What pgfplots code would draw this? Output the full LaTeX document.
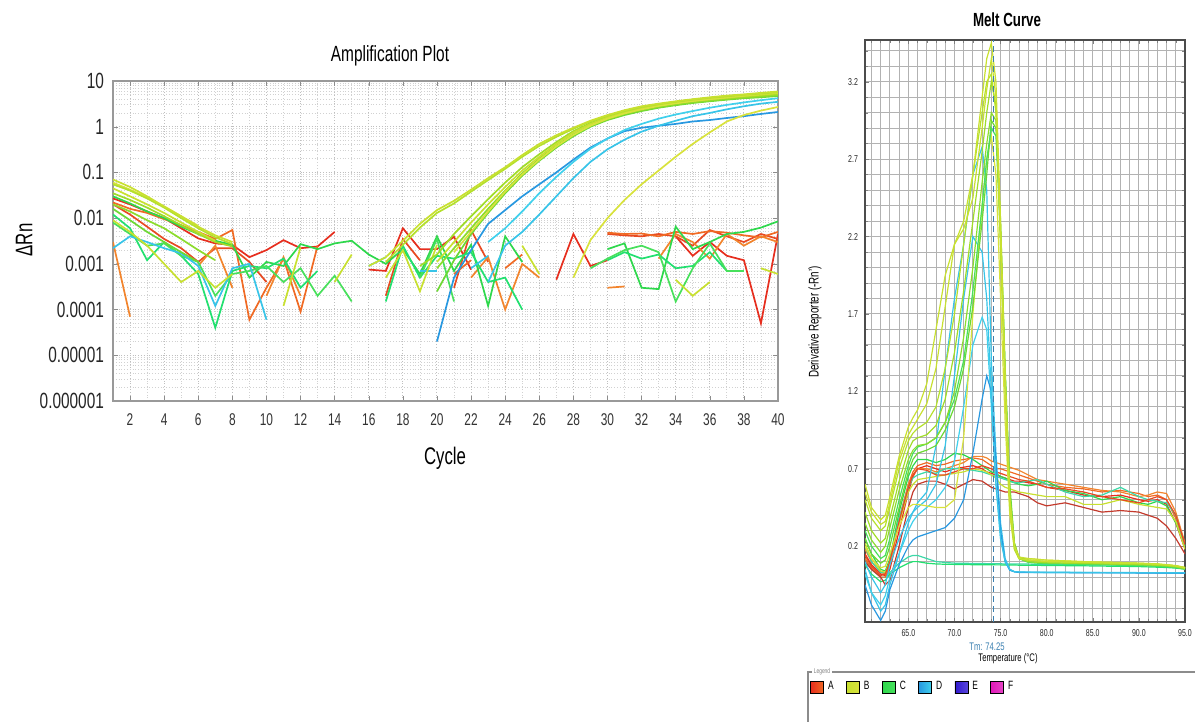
\documentclass[border=0pt]{standalone}
\usepackage{fontspec}
\setmainfont{Liberation Sans}[FakeStretch=0.7]
\usepackage{pgfplots}
\usepackage{pgfplotstable}
\pgfplotsset{compat=1.18}

\definecolor{Ared}{HTML}{E62E1E}
\definecolor{Ared2}{HTML}{E84A22}
\definecolor{Aora}{HTML}{F06A24}
\definecolor{Aora2}{HTML}{F2842C}
\definecolor{Adark}{HTML}{C43A2C}
\definecolor{Byg}{HTML}{C8E030}
\definecolor{Byg2}{HTML}{B4E02C}
\definecolor{Blime}{HTML}{A0DC28}
\definecolor{Blime2}{HTML}{8CDC2C}
\definecolor{Bgr}{HTML}{6CD834}
\definecolor{Byel}{HTML}{D8E23C}
\definecolor{Cgr}{HTML}{2ED84C}
\definecolor{Cgr2}{HTML}{22E070}
\definecolor{Cgr3}{HTML}{48E05C}
\definecolor{Cteal}{HTML}{3CD8A8}
\definecolor{Dcy}{HTML}{38C4E8}
\definecolor{Dblue}{HTML}{2898E0}
\definecolor{Dcy2}{HTML}{40D0EC}
\definecolor{Eblue}{HTML}{3018D0}
\definecolor{Fmag}{HTML}{E018B8}
\definecolor{TmBlue}{HTML}{3A7FB0}

% amplification: amplified wells
\pgfplotstableread{
c  s1     s2     b1     b2     b3     b4      b5     d1      d2     d3     late
1  0.070  0.055  0.035  0.045  0.020  0.016   0.060  nan     nan    nan    nan
2  0.048  0.040  0.025  0.030  0.014  0.009   0.042  nan     nan    nan    nan
3  0.030  0.027  0.017  0.020  0.009  0.005   0.028  nan     nan    nan    nan
4  0.018  0.017  0.011  0.013  0.006  0.003   0.018  nan     nan    nan    nan
5  0.011  0.010  0.007  0.008  0.0035 0.0018  0.011  nan     nan    nan    nan
6  0.0065 0.006  0.0045 0.005  0.002  0.0011  0.0068 nan     nan    nan    nan
7  0.0042 0.0038 0.003  0.0032 0.0012 nan     nan    nan     nan    nan    nan
8  0.0030 0.0027 0.0024 nan    nan    nan     nan    nan     nan    nan    nan
9  nan    nan    nan    nan    nan    nan     nan    nan     nan    nan    nan
15 nan    nan    nan    nan    nan    nan     nan    nan     nan    nan    nan
16 0.0009 nan    nan    nan    nan    nan     nan    nan     nan    nan    nan
17 0.0014 0.0011 nan    nan    nan    nan     nan    nan     nan    nan    nan
18 0.0032 0.0026 nan    nan    nan    nan     nan    nan     nan    nan    nan
19 0.0075 0.0062 0.0009 nan    nan    nan     nan    nan     nan    nan    nan
20 0.015  0.013  0.0016 0.0011 0.0008 0.00025 nan    0.00002 nan    nan    nan
21 0.024  0.021  0.0045 0.003  0.0022 0.0012  0.0018 0.0005  nan    nan    nan
22 0.042  0.038  0.011  0.008  0.006  0.0045  0.005  0.002   nan    nan    nan
23 0.075  0.068  0.026  0.020  0.016  0.013   0.014  0.0075  0.0004 0.003  nan
24 0.13   0.12   0.06   0.048  0.04   0.035   0.038  0.015   0.0025 0.006  nan
25 0.24   0.22   0.13   0.11   0.095  0.085   0.09   0.03    0.005  0.014  nan
26 0.42   0.38   0.25   0.22   0.2    0.18    0.19   0.055   0.012  0.035  nan
27 0.65   0.6    0.46   0.42   0.38   0.35    0.37   0.1     0.03   0.08   nan
28 0.95   0.9    0.8    0.75   0.68   0.62    0.66   0.19    0.075  0.17   0.0005
29 1.35   1.3    1.2    1.15   1.05   1.0     1.05   0.35    0.17   0.33   0.0033
30 1.8    1.75   1.65   1.6    1.45   1.4     1.5    0.55    0.32   0.55   0.01
31 2.3    2.2    2.1    2.05   1.9    1.8     1.95   0.8     0.52   0.85   0.025
32 2.8    2.7    2.5    2.5    2.3    2.2     2.4    0.95    0.78   1.15   0.055
33 3.2    3.1    2.9    2.9    2.7    2.6     2.85   1.05    1.05   1.5    0.11
34 3.6    3.5    3.3    3.3    3.05   2.95    3.25   1.15    1.35   1.85   0.22
35 4.0    3.9    3.6    3.7    3.4    3.3     3.65   1.3     1.7    2.2    0.42
36 4.4    4.3    3.9    4.0    3.7    3.6     4.0    1.4     2.0    2.6    0.75
37 4.8    4.6    4.2    4.3    4.0    3.9     4.4    1.55    2.4    3.0    1.3
38 5.1    5.0    4.5    4.7    4.3    4.2     4.8    1.7     2.8    3.4    1.8
39 5.5    5.3    4.8    5.0    4.6    4.4     5.2    1.9     3.2    3.8    2.25
40 5.9    5.7    5.1    5.4    4.9    4.7     5.6    2.1     3.5    4.2    2.7
}\amp

% amplification: background noise of the other wells
\pgfplotstableread{
c  r1      r2     o1      o2      g1      g2      g3      cy      y1
1  0.027   0.020  0.022   0.003   0.030   0.012   0.008   0.0022  0.009
2  0.020   0.012  0.016   0.00007 0.021   0.006   0.0045  0.004   0.005
3  0.014   0.0065 0.013   nan     0.014   0.0012  0.0025  0.003   0.0025
4  0.010   0.0035 0.0095  nan     0.010   0.003   0.0028  0.0022  0.001
5  0.006   0.0022 0.007   nan     0.0065  0.0015  0.0015  0.0017  0.0004
6  0.0036  0.0011 0.005   0.0009  0.0045  0.0006  0.0011  0.0009  0.0007
7  0.0028  0.0022 0.0035  0.0025  0.0032  0.00004 0.0002  0.00012 0.0003
8  0.0026  0.0022 0.0055  0.0003  0.0026  0.0007  0.0006  0.0008  0.0006
9  0.0014  0.0011 0.00006 nan     0.0005  0.0009  0.0007  0.001   nan
10 0.002   0.0004 0.0003  0.0002  0.0011  0.0008  0.0009  0.00006 nan
11 0.0033  nan    0.0013  0.0014  0.0009  0.0013  0.0004  nan     0.00012
12 0.0022  nan    0.00009 0.0002  0.0027  0.0003  0.0008  nan     0.0023
13 0.0024  nan    0.0025  nan     0.0021  0.0007  0.0002  nan     nan
14 0.005   nan    nan     nan     0.0028  nan     0.00055 nan     0.0004
15 nan     nan    nan     nan     0.0032  nan     0.00015 nan     0.0016
16 0.00075 nan    nan     nan     0.0016  nan     nan     0.0009  nan
17 0.0007  0.0002 nan     nan     0.001   0.00015 nan     0.0014  0.0005
18 0.006   0.0035 nan     nan     0.0021  0.0025  nan     nan     0.002
19 0.0021  0.0012 nan     nan     0.0006  0.0005  0.0005  0.0007  0.00025
20 0.0021  nan    nan     nan     0.004   0.0015  0.0035  0.0007  0.0026
21 0.0039  0.0003 0.0006  nan     0.0007  0.0013  0.00015 nan     nan
22 0.00075 0.0055 0.0012  0.0005  0.0026  0.0018  nan     0.0008  nan
23 nan     0.0011 nan     0.0014  0.00012 0.0004  nan     0.0015  nan
24 nan     nan    0.0008  0.0001  0.004   0.0005  nan     nan     nan
25 nan     nan    0.0016  0.001   0.0011  0.0001  nan     nan     0.0025
26 nan     nan    nan     0.0005  nan     nan     nan     nan     0.0006
27 0.00045 nan    nan     nan     nan     nan     nan     nan     nan
28 0.0045  nan    nan     nan     nan     nan     nan     nan     nan
29 0.0009  nan    nan     nan     nan     nan     0.0008  nan     nan
30 0.0012  0.0045 0.0048  0.0003  0.0021  0.0012  0.0013  nan     nan
31 nan     0.0042 0.0045  0.00032 0.0028  0.0018  0.002   nan     nan
32 nan     0.004  0.0046  nan     0.0003  0.0013  0.0025  nan     nan
33 nan     0.0045 0.004   0.0013  0.00028 0.0016  0.0018  nan     nan
34 0.004   0.004  0.005   0.0045  0.0065  0.0008  0.00015 nan     0.00045
35 0.0015  0.0025 0.0045  0.003   0.0021  0.0009  0.0008  nan     0.0002
36 0.003   0.0055 0.0052  0.0013  0.003   0.0018  0.0028  nan     0.0004
37 0.0015  0.004  0.0048  0.0045  0.0045  0.0007  0.0007  nan     nan
38 0.0012  0.003  0.0042  0.0025  0.005   0.0007  0.0007  nan     nan
39 0.00005 0.0045 0.0038  0.004   0.0062  nan     nan     nan     0.0008
40 0.0045  0.0035 0.005   0.003   0.0085  nan     nan     nan     0.0006
}\noise

% melt: wells with a product peak
\pgfplotstableread{
T    p1    p2    p3    p4    p5    p6    p7    p8
60.3 0.60  0.50  0.42  0.35  0.30  0.25  0.20  0.55
61   0.45  0.38  0.30  0.24  0.20  0.15  0.12  0.42
62   0.37  0.30  0.22  0.16  0.12  0.09  0.06  0.34
62.5 0.40  0.33  0.25  0.20  0.14  0.11  0.07  0.36
63   0.52  0.45  0.38  0.32  0.25  0.20  0.15  0.48
64   0.78  0.70  0.62  0.56  0.50  0.45  0.33  0.75
65   0.97  0.88  0.82  0.76  0.72  0.68  0.45  0.92
65.5 1.03  0.93  0.88  0.82  0.80  0.76  0.47  0.97
66   1.08  0.96  0.90  0.85  0.84  0.80  0.47  1.02
67   1.25  1.00  0.92  0.86  0.86  0.82  0.46  1.12
68   1.60  1.10  0.98  0.90  0.90  0.85  0.45  1.35
69   1.95  1.35  1.15  1.00  1.00  0.95  0.45  1.75
70   2.15  1.70  1.45  1.20  1.15  1.10  0.50  2.15
71   2.30  2.15  1.85  1.55  1.40  1.35  0.90  2.25
72   2.60  2.60  2.30  2.00  1.85  1.75  1.70  2.45
73   3.10  3.00  2.75  2.55  2.40  2.30  2.40  2.90
73.5 3.35  3.20  3.00  2.80  2.70  2.60  2.70  3.15
74   3.45  3.25  3.20  3.00  2.90  2.95  2.85  3.35
74.5 3.20  3.00  3.05  2.95  2.85  2.90  2.60  3.10
75   2.30  2.10  2.20  2.25  2.20  2.30  1.80  2.20
75.5 1.30  1.20  1.25  1.30  1.30  1.35  1.00  1.25
76   0.50  0.45  0.50  0.55  0.55  0.60  0.40  0.48
76.5 0.20  0.18  0.20  0.22  0.20  0.22  0.18  0.20
77   0.13  0.12  0.12  0.13  0.12  0.12  0.12  0.12
78   0.12  0.11  0.10  0.11  0.095 0.10  0.12  0.11
79   0.115 0.105 0.095 0.105 0.09  0.095 0.115 0.105
80   0.11  0.10  0.092 0.10  0.087 0.092 0.11  0.10
82   0.105 0.098 0.09  0.098 0.085 0.09  0.105 0.098
84   0.10  0.095 0.088 0.095 0.083 0.088 0.10  0.095
86   0.097 0.092 0.085 0.092 0.08  0.085 0.097 0.092
88   0.094 0.09  0.082 0.09  0.078 0.082 0.094 0.09
90   0.09  0.087 0.08  0.087 0.075 0.08  0.09  0.087
91   0.088 0.085 0.078 0.085 0.073 0.078 0.088 0.085
92   0.085 0.082 0.076 0.082 0.07  0.076 0.085 0.082
93   0.08  0.078 0.072 0.078 0.067 0.072 0.08  0.078
94   0.074 0.072 0.066 0.072 0.062 0.066 0.074 0.072
95   0.062 0.06  0.055 0.06  0.05  0.055 0.062 0.06
}\meltpk

% melt: D wells and flat wells
\pgfplotstableread{
T    q1    q2    q3    q4    f1    f2
60.3 0.05  0.02  -0.05 0.10  0.12  0.08
61   -0.10 -0.10 -0.18 0.00  0.05  0.02
62   -0.22 -0.18 -0.28 -0.10 0.00  -0.03
62.5 -0.18 -0.12 -0.22 -0.05 0.00  -0.02
63   -0.05 0.00  -0.08 0.08  0.03  0.02
64   0.15  0.15  0.08  0.25  0.09  0.06
65   0.35  0.30  0.20  0.38  0.13  0.09
65.5 0.42  0.36  0.24  0.42  0.14  0.10
66   0.48  0.40  0.26  0.45  0.14  0.10
67   0.55  0.45  0.28  0.50  0.12  0.09
68   0.85  0.50  0.30  0.60  0.10  0.085
69   1.35  0.58  0.32  0.85  0.095 0.083
70   1.80  0.75  0.38  1.30  0.09  0.082
71   2.15  1.10  0.50  1.80  0.09  0.082
72   2.60  1.50  0.80  2.20  0.088 0.08
73   2.78  1.68  1.15  2.10  0.088 0.08
73.5 2.50  1.60  1.30  1.80  0.087 0.08
74   1.40  1.10  1.20  1.20  0.087 0.08
74.5 0.80  0.60  0.75  0.60  0.086 0.079
75   0.35  0.25  0.30  0.25  0.086 0.079
75.5 0.12  0.10  0.10  0.10  0.085 0.078
76   0.05  0.045 0.045 0.05  0.085 0.078
76.5 0.035 0.035 0.035 0.035 0.085 0.078
77   0.032 0.032 0.03  0.033 0.085 0.077
78   0.031 0.031 0.03  0.032 0.084 0.077
79   0.031 0.03  0.03  0.032 0.083 0.076
80   0.03  0.03  0.029 0.031 0.082 0.075
82   0.03  0.03  0.029 0.031 0.08  0.074
84   0.03  0.029 0.028 0.03  0.079 0.073
86   0.029 0.029 0.028 0.03  0.078 0.071
88   0.029 0.028 0.028 0.03  0.077 0.07
90   0.028 0.028 0.027 0.029 0.075 0.068
91   0.028 0.028 0.027 0.029 0.073 0.066
92   0.028 0.027 0.027 0.029 0.07  0.064
93   0.027 0.027 0.026 0.028 0.068 0.062
94   0.027 0.026 0.026 0.028 0.064 0.058
95   0.026 0.026 0.025 0.027 0.058 0.052
}\meltlow

% melt: wells without product
\pgfplotstableread{
T    n1    n2    n3    n4    n5    n6    n7    n8
60.3 0.15  0.12  0.10  0.18  0.25  0.20  0.22  0.14
61   0.08  0.06  0.05  0.10  0.15  0.10  0.12  0.07
62   0.02  0.00  0.00  0.03  0.05  0.03  0.04  0.01
62.5 0.01  0.00  -0.05 0.02  0.04  0.03  0.03  0.02
63   0.05  0.08  -0.02 0.10  0.12  0.10  0.10  0.10
64   0.30  0.35  0.20  0.38  0.42  0.38  0.35  0.36
65   0.55  0.60  0.45  0.60  0.65  0.58  0.55  0.58
65.5 0.65  0.68  0.55  0.66  0.72  0.64  0.60  0.66
66   0.70  0.72  0.60  0.70  0.76  0.66  0.63  0.70
67   0.72  0.74  0.62  0.70  0.76  0.68  0.64  0.69
68   0.70  0.72  0.62  0.68  0.74  0.67  0.65  0.66
69   0.68  0.73  0.60  0.70  0.76  0.70  0.66  0.66
70   0.70  0.75  0.57  0.72  0.80  0.70  0.67  0.68
71   0.71  0.76  0.60  0.74  0.79  0.70  0.68  0.70
72   0.72  0.77  0.63  0.78  0.76  0.69  0.70  0.70
73   0.70  0.76  0.62  0.78  0.72  0.68  0.69  0.72
73.5 0.68  0.74  0.60  0.77  0.70  0.67  0.68  0.71
74   0.67  0.72  0.58  0.75  0.68  0.66  0.66  0.70
74.5 0.66  0.70  0.57  0.74  0.67  0.65  0.64  0.68
75   0.65  0.70  0.56  0.73  0.65  0.64  0.60  0.67
75.5 0.64  0.69  0.55  0.72  0.64  0.63  0.58  0.66
76   0.63  0.68  0.55  0.71  0.62  0.62  0.57  0.65
76.5 0.62  0.67  0.55  0.70  0.61  0.61  0.56  0.64
77   0.62  0.66  0.54  0.69  0.60  0.61  0.55  0.63
78   0.61  0.64  0.52  0.66  0.59  0.62  0.54  0.62
79   0.60  0.62  0.48  0.63  0.60  0.63  0.53  0.60
80   0.58  0.60  0.46  0.62  0.62  0.60  0.52  0.58
82   0.56  0.58  0.48  0.60  0.56  0.55  0.52  0.57
84   0.53  0.57  0.45  0.58  0.54  0.52  0.47  0.55
86   0.52  0.55  0.42  0.56  0.50  0.53  0.47  0.52
88   0.53  0.56  0.43  0.55  0.52  0.58  0.50  0.50
90   0.50  0.54  0.42  0.52  0.48  0.52  0.47  0.48
91   0.49  0.52  0.40  0.53  0.47  0.50  0.46  0.50
92   0.50  0.53  0.38  0.55  0.49  0.49  0.45  0.52
93   0.47  0.50  0.33  0.54  0.46  0.48  0.44  0.50
94   0.35  0.38  0.25  0.42  0.35  0.40  0.36  0.40
95   0.18  0.20  0.15  0.22  0.20  0.20  0.18  0.21
}\meltnon

\pgfplotsset{
  ampl/.style={line width=0.85pt, forget plot},
  mlt/.style={line width=0.6pt, forget plot},
}

\begin{document}
\begin{tikzpicture}
\path[use as bounding box] (0pt,0pt) rectangle (597.5pt,361pt);

% ---------- amplification plot ----------
\begin{axis}[
  at={(56.5pt,160.5pt)}, anchor=south west,
  scale only axis, width=332.5pt, height=160pt,
  ymode=log, xmin=1, xmax=40, ymin=1e-6, ymax=10,
  unbounded coords=jump,
  xtick={2,4,...,40}, minor x tick num=1,
  ytick={1e-6,1e-5,1e-4,1e-3,1e-2,1e-1,1,10},
  yticklabels={0.000001,0.00001,0.0001,0.001,0.01,0.1,1,10},
  grid=both,
  major grid style={black!25, densely dotted, line width=0.5pt},
  minor grid style={black!18, densely dotted, line width=0.4pt},
  axis line style={draw=black!40, line width=0.8pt},
  major tick length=2.5pt, minor tick length=0pt,
  tick style={draw=black!45},
  /pgf/number format/assume math mode=true,
  xticklabel style={font=\fontsize{8.5}{10}\selectfont, text=black!80, yshift=-3pt},
  yticklabel style={font=\fontsize{11}{12}\selectfont, text=black!85, xshift=-1pt},
]
\addplot[ampl, Ared]  table[x=c,y=r1]{\noise};
\addplot[ampl, Ared2] table[x=c,y=r2]{\noise};
\addplot[ampl, Aora]  table[x=c,y=o1]{\noise};
\addplot[ampl, Aora2] table[x=c,y=o2]{\noise};
\addplot[ampl, Cgr]   table[x=c,y=g1]{\noise};
\addplot[ampl, Cgr2]  table[x=c,y=g2]{\noise};
\addplot[ampl, Cgr3]  table[x=c,y=g3]{\noise};
\addplot[ampl, Dcy]   table[x=c,y=cy]{\noise};
\addplot[ampl, Byg]   table[x=c,y=y1]{\noise};

\addplot[ampl, Dblue] table[x=c,y=d1]{\amp};
\addplot[ampl, Dcy]   table[x=c,y=d2]{\amp};
\addplot[ampl, Dcy2]  table[x=c,y=d3]{\amp};
\addplot[ampl, Byel]  table[x=c,y=late]{\amp};
\addplot[ampl, Bgr]   table[x=c,y=b4]{\amp};
\addplot[ampl, Blime2] table[x=c,y=b3]{\amp};
\addplot[ampl, Blime] table[x=c,y=b1]{\amp};
\addplot[ampl, Byg]   table[x=c,y=b2]{\amp};
\addplot[ampl, Byel]  table[x=c,y=b5]{\amp};
\addplot[ampl, Byg2]  table[x=c,y=s2]{\amp};
\addplot[ampl, Byg]   table[x=c,y=s1]{\amp};
\end{axis}

% ---------- melt curve ----------
\begin{axis}[
  at={(432.5pt,50pt)}, anchor=south west,
  scale only axis, width=160pt, height=291pt,
  xmin=60.3, xmax=95, ymin=-0.29, ymax=3.47,
  xtick={65,70,75,80,85,90,95},
  ytick={0.2,0.7,1.2,1.7,2.2,2.7,3.2},
  minor xtick={61,...,94},
  minor ytick={-0.2,-0.1,...,3.4},
  xmajorgrids=false, ymajorgrids=false, xminorgrids=true, yminorgrids=true,
  minor grid style={black!30, line width=0.5pt},
  axis line style={draw=black!70, line width=0.8pt},
  major tick length=2pt, minor tick length=1.5pt,
  tick style={draw=black!50},
  /pgf/number format/assume math mode=true,
  tick label style={font=\fontsize{5}{6}\selectfont, text=black!85},
  xticklabel style={/pgf/number format/.cd, fixed, fixed zerofill, precision=1},
  yticklabel style={/pgf/number format/.cd, fixed, fixed zerofill, precision=1},
  legend columns=6,
  legend style={at={(-0.172,-0.112)}, anchor=west, draw=none, fill=none,
    inner sep=0pt, font=\fontsize{6}{7}\selectfont,
    /tikz/every even column/.append style={column sep=4.2pt}},
]
\addplot[mlt, Cteal] table[x=T,y=f1]{\meltlow};
\addplot[mlt, Cgr2]  table[x=T,y=f2]{\meltlow};

\addplot[mlt, Ared]  table[x=T,y=n1]{\meltnon};
\addplot[mlt, Aora]  table[x=T,y=n2]{\meltnon};
\addplot[mlt, Adark] table[x=T,y=n3]{\meltnon};
\addplot[mlt, Aora2] table[x=T,y=n4]{\meltnon};
\addplot[mlt, Cgr]   table[x=T,y=n5]{\meltnon};
\addplot[mlt, Cteal] table[x=T,y=n6]{\meltnon};
\addplot[mlt, Byg]   table[x=T,y=n7]{\meltnon};
\addplot[mlt, Ared2] table[x=T,y=n8]{\meltnon};

\addplot[mlt, Dcy]   table[x=T,y=q1]{\meltlow};
\addplot[mlt, Dcy2]  table[x=T,y=q2]{\meltlow};
\addplot[mlt, Dblue] table[x=T,y=q3]{\meltlow};
\addplot[mlt, Dcy]   table[x=T,y=q4]{\meltlow};

\addplot[mlt, Byel]   table[x=T,y=p7]{\meltpk};
\addplot[mlt, Bgr]    table[x=T,y=p6]{\meltpk};
\addplot[mlt, Cgr3]   table[x=T,y=p5]{\meltpk};
\addplot[mlt, Blime2] table[x=T,y=p4]{\meltpk};
\addplot[mlt, Blime]  table[x=T,y=p3]{\meltpk};
\addplot[mlt, Byg2]   table[x=T,y=p2]{\meltpk};
\addplot[mlt, Byg]    table[x=T,y=p8]{\meltpk};
\addplot[mlt, Byg]    table[x=T,y=p1]{\meltpk};

\addplot[forget plot, TmBlue, densely dashed, line width=0.45pt]
  coordinates {(74.25,-0.29) (74.25,3.47)};

\addlegendimage{legend image code/.code={\shade[left color=Ared,right color=Aora] (0pt,-3pt) rectangle (6.5pt,3pt);}}
\addlegendentry{A}
\addlegendimage{legend image code/.code={\shade[left color=Byg,right color=Byel] (0pt,-3pt) rectangle (6.5pt,3pt);}}
\addlegendentry{B}
\addlegendimage{legend image code/.code={\shade[left color=Cgr,right color=Cgr3] (0pt,-3pt) rectangle (6.5pt,3pt);}}
\addlegendentry{C}
\addlegendimage{legend image code/.code={\shade[left color=Dblue,right color=Dcy2] (0pt,-3pt) rectangle (6.5pt,3pt);}}
\addlegendentry{D}
\addlegendimage{legend image code/.code={\shade[left color=Eblue,right color=Eblue!80!white] (0pt,-3pt) rectangle (6.5pt,3pt);}}
\addlegendentry{E}
\addlegendimage{legend image code/.code={\shade[left color=Fmag,right color=Fmag!80!white] (0pt,-3pt) rectangle (6.5pt,3pt);}}
\addlegendentry{F}
\end{axis}

% ---------- titles and labels ----------
\node[font=\fontsize{11}{13}\selectfont] at (195pt,333pt) {Amplification Plot};
\node[rotate=90, font=\fontsize{12}{14}\selectfont] at (12pt,241pt) {ΔRn};
\node[font=\fontsize{12}{14}\selectfont] at (222.5pt,132pt) {Cycle};

\node[font=\bfseries\fontsize{9.5}{11}\selectfont] at (503.5pt,351pt) {Melt Curve};
\node[rotate=90, font=\fontsize{7}{8}\selectfont] at (407.5pt,200pt) {Derivative Reporter (-Rn')};
\node[text=TmBlue, font=\fontsize{5.5}{6.5}\selectfont] at (493.5pt,37.5pt) {Tm: 74.25};
\node[font=\fontsize{5.5}{6.5}\selectfont] at (504pt,31.5pt) {Temperature (°C)};

\draw[black!45, line width=0.7pt] (404pt,0pt) -- (404pt,25pt) -- (597.5pt,25pt);
\node[fill=white, inner sep=0.8pt, text=black!50, font=\fontsize{3.5}{4}\selectfont] at (411pt,25pt) {Legend};
\end{tikzpicture}
\end{document}
